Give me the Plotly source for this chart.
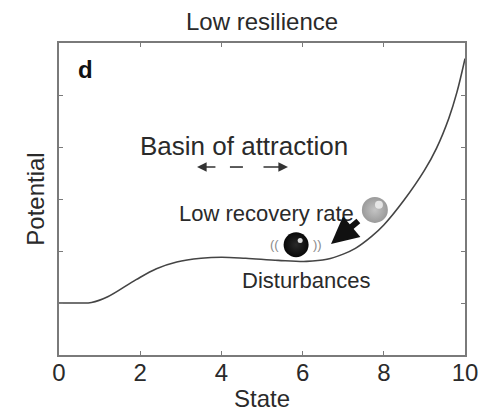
import plotly.graph_objects as go

# Potential landscape (state vs. potential)
state = [0, 0.5, 0.8, 1.2, 1.9, 2.4, 2.9, 3.5, 4.0, 4.6, 5.4, 6.1, 6.6, 7.0, 7.3, 7.7, 8.0, 8.5, 9.0, 9.3, 9.6, 9.8, 10]
potential = [1.0, 1.0, 1.01, 1.12, 1.45, 1.66, 1.79, 1.86, 1.88, 1.86, 1.82, 1.80, 1.84, 1.94, 2.05, 2.28, 2.5, 2.98, 3.55, 3.98, 4.55, 5.05, 5.7]

x_ticks = [0, 2, 4, 6, 8, 10]
x_ticklabels = ["0", "2", "4", "6", "8", "10"]
y_ticks = [1, 2, 3, 4, 5]

# Balls: the displaced state (grey) and the equilibrium state (black)
grey_ball = (7.78, 2.79)
black_ball = (5.84, 2.12)

FONT = "Arial, Liberation Sans, Helvetica, sans-serif"
TXT = "#2a2a2a"
FRAME = "#7a7a7a"

fig = go.Figure()

fig.add_trace(go.Scatter(
    x=state, y=potential, mode="lines",
    line=dict(color="#444444", width=1.6, shape="spline", smoothing=1.0),
    hoverinfo="skip", showlegend=False,
))

# grey ball with soft shading and highlight
fig.add_trace(go.Scatter(
    x=[grey_ball[0]], y=[grey_ball[1]], mode="markers",
    marker=dict(size=26, color="#9a9a9a",
                gradient=dict(type="radial", color="#c4c4c4"),
                line=dict(width=0)),
    hoverinfo="skip", showlegend=False,
))
fig.add_trace(go.Scatter(
    x=[grey_ball[0] + 0.1], y=[grey_ball[1] + 0.1], mode="markers",
    marker=dict(size=8, color="rgba(235,235,235,0.9)", line=dict(width=0)),
    hoverinfo="skip", showlegend=False,
))

# black ball with highlight
fig.add_trace(go.Scatter(
    x=[black_ball[0]], y=[black_ball[1]], mode="markers",
    marker=dict(size=25, color="#080808",
                gradient=dict(type="radial", color="#2a2a2a"),
                line=dict(width=0)),
    hoverinfo="skip", showlegend=False,
))
fig.add_trace(go.Scatter(
    x=[black_ball[0] + 0.1], y=[black_ball[1] + 0.08], mode="markers",
    marker=dict(size=5, color="rgba(230,230,230,0.95)", line=dict(width=0)),
    hoverinfo="skip", showlegend=False,
))

annotations = [
    dict(text="Low resilience", xref="paper", yref="paper", x=0.5, y=1.0705,
         yanchor="middle", showarrow=False, font=dict(size=24, color=TXT, family=FONT)),
    dict(text="<b>d</b>", x=0.66, y=5.5, showarrow=False,
         font=dict(size=24, color="#111111", family=FONT)),
    dict(text="Basin of attraction", x=4.55, y=4.02, showarrow=False,
         font=dict(size=26, color=TXT, family=FONT)),
    dict(text="Low recovery rate", x=5.12, y=2.73, showarrow=False,
         font=dict(size=22, color=TXT, family=FONT)),
    dict(text="Disturbances", x=6.08, y=1.44, showarrow=False,
         font=dict(size=22, color=TXT, family=FONT)),
    dict(text="((", x=5.3, y=2.12, showarrow=False,
         font=dict(size=13, color="#8a8a8a", family=FONT)),
    dict(text="))", x=6.36, y=2.12, showarrow=False,
         font=dict(size=13, color="#8a8a8a", family=FONT)),
    # basin arrows
    dict(x=3.40, y=3.615, ax=3.89, ay=3.615, xref="x", yref="y", axref="x", ayref="y",
         text="", showarrow=True, arrowhead=2, arrowsize=1.2, arrowwidth=1.6,
         arrowcolor="#333333", standoff=0),
    dict(x=5.64, y=3.615, ax=5.0, ay=3.615, xref="x", yref="y", axref="x", ayref="y",
         text="", showarrow=True, arrowhead=2, arrowsize=1.2, arrowwidth=1.6,
         arrowcolor="#333333", standoff=0),
    # recovery arrow
    dict(x=6.70, y=2.135, ax=7.41, ay=2.60, xref="x", yref="y", axref="x", ayref="y",
         text="", showarrow=True, arrowhead=2, arrowsize=0.9, arrowwidth=6,
         arrowcolor="#111111", standoff=0),
]

shapes = [
    dict(type="line", xref="x", yref="y", x0=4.21, x1=4.53, y0=3.615, y1=3.615,
         line=dict(color="#333333", width=1.6)),
]

fig.update_layout(
    width=485, height=412,
    margin=dict(l=59, r=20, t=43, b=57),
    paper_bgcolor="white", plot_bgcolor="white",
    font=dict(family=FONT, color=TXT),
    annotations=annotations, shapes=shapes,
    xaxis=dict(range=[0, 10], tickvals=x_ticks, ticktext=x_ticklabels,
               ticks="inside", ticklen=4, tickcolor=FRAME, tickwidth=1,
               showline=True, linecolor=FRAME, linewidth=2, mirror="ticks",
               showgrid=False, zeroline=False, automargin=False,
               ticklabelstandoff=-5,
               tickfont=dict(size=24, color=TXT, family=FONT),
               title=dict(text="State", standoff=5,
                          font=dict(size=24, color=TXT, family=FONT))),
    yaxis=dict(range=[0, 6], tickvals=y_ticks, showticklabels=False,
               ticks="inside", ticklen=4, tickcolor=FRAME, tickwidth=1,
               showline=True, linecolor=FRAME, linewidth=2, mirror="ticks",
               showgrid=False, zeroline=False, automargin=False,
               title=dict(text="Potential", standoff=6,
                          font=dict(size=24, color=TXT, family=FONT))),
)

fig.write_html("out.html")
